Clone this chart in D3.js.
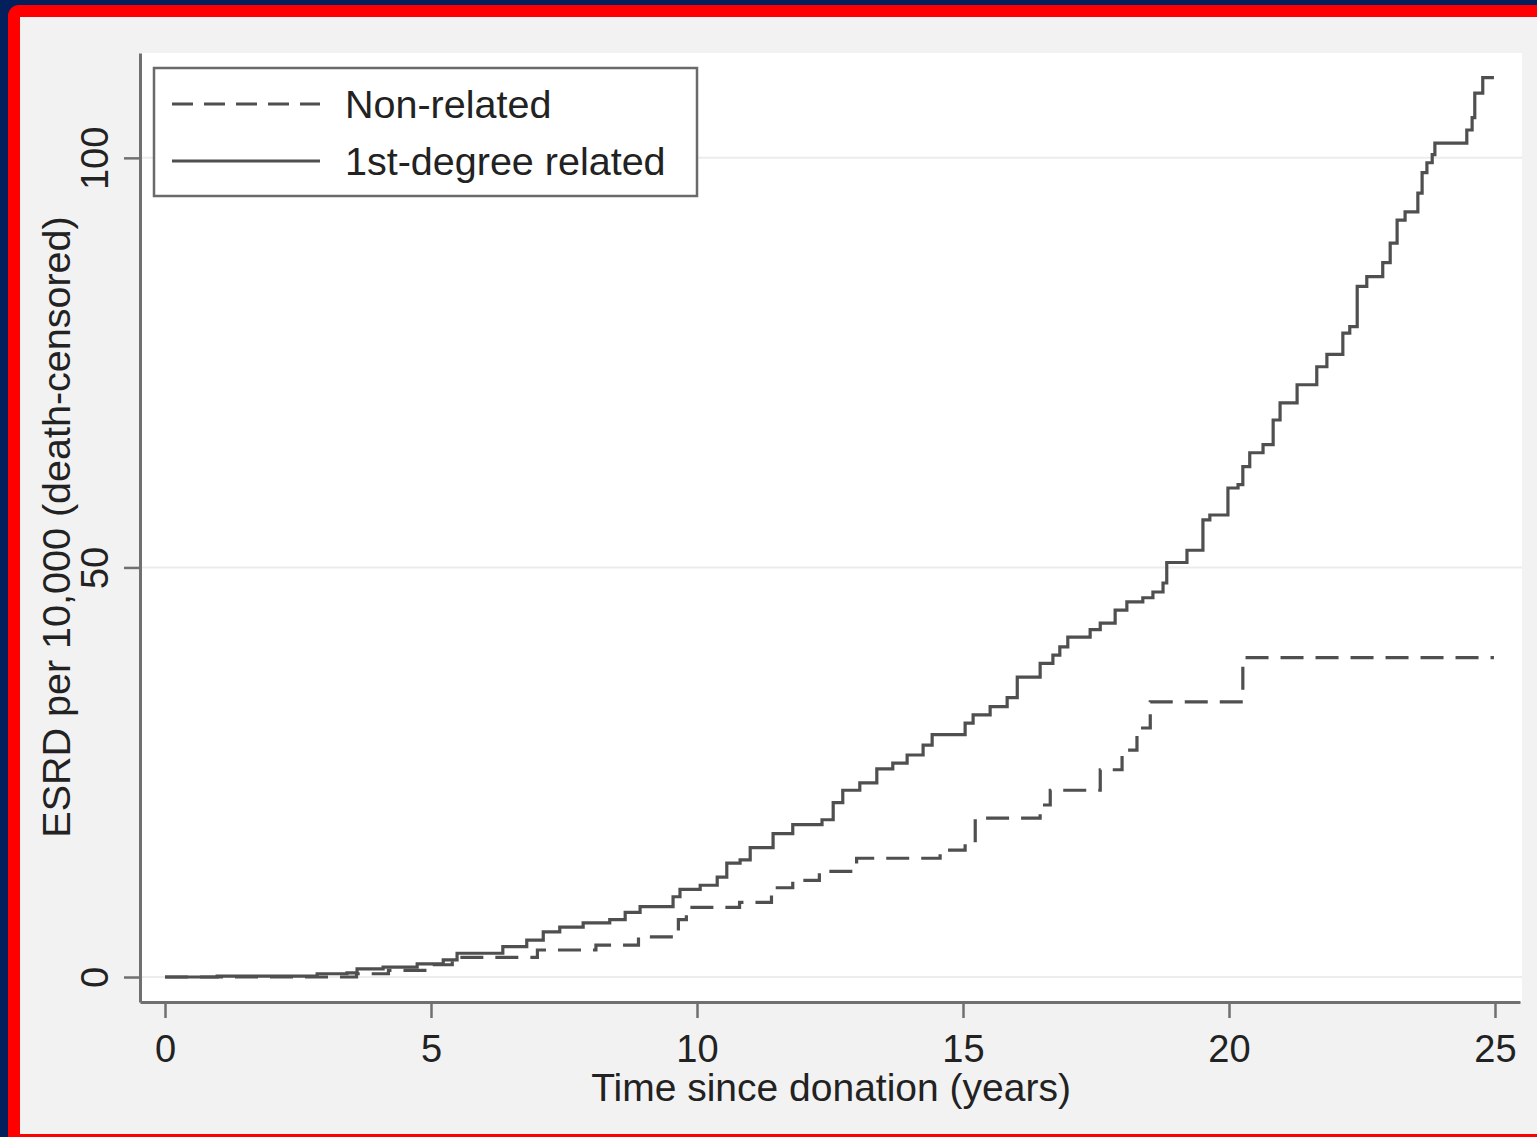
<!DOCTYPE html>
<html>
<head>
<meta charset="utf-8">
<script src="https://cdn.jsdelivr.net/npm/d3@7.9.0/dist/d3.min.js"></script>
<style>
  body { margin: 0; background: #03205c; }
  svg { display: block; font-family: 'Liberation Sans', Arial, Helvetica, sans-serif; }
</style>
</head>
<body>
<svg id="chart"></svg>
<script>
// values (years, ESRD per 10,000)
const seriesNames = ['Non-related', '1st-degree related'];

const nonRelatedT = [0, 3.6, 4.2, 5.0, 5.4, 7.0, 8.1, 8.9, 9.65, 9.8, 10.8, 11.4, 11.8, 12.3, 13.0,
  14.57, 15.04, 15.23, 16.45, 16.64, 17.58, 17.99, 18.27, 18.52, 20.26, 24.98];
const nonRelatedY = [0, 0.4, 0.8, 1.5, 2.4, 3.3, 3.9, 4.9, 7.0, 8.5, 9.1, 10.9, 11.8, 12.9, 14.5,
  15.5, 16.4, 19.4, 21.0, 22.8, 25.3, 27.7, 30.4, 33.6, 39.0, 39.0];

const relatedT = [0, 0.98, 2.86, 3.42, 3.61, 4.10, 4.74, 5.23, 5.49, 6.35, 6.80, 7.11, 7.42, 7.86,
  8.36, 8.65, 8.93, 9.55, 9.68, 10.06, 10.38, 10.56, 10.81, 11.00, 11.43, 11.80, 12.35, 12.56,
  12.74, 13.06, 13.38, 13.68, 13.95, 14.25, 14.42, 15.04, 15.19, 15.51, 15.83, 16.02, 16.45,
  16.69, 16.82, 16.97, 17.39, 17.58, 17.86, 18.08, 18.38, 18.57, 18.76, 18.83, 19.21, 19.51,
  19.64, 19.98, 20.17, 20.26, 20.39, 20.64, 20.83, 20.96, 21.28, 21.65, 21.84, 22.14, 22.27,
  22.41, 22.59, 22.89, 23.03, 23.16, 23.31, 23.55, 23.63, 23.72, 23.82, 23.87, 24.47, 24.57,
  24.62, 24.77, 24.98];
const relatedY = [0, 0.1, 0.4, 0.5, 1.0, 1.2, 1.6, 2.1, 2.9, 3.7, 4.5, 5.5, 6.1, 6.6,
  7.0, 7.9, 8.6, 9.8, 10.7, 11.2, 12.2, 13.9, 14.3, 15.8, 17.5, 18.6, 19.2, 21.3,
  22.8, 23.7, 25.4, 26.1, 27.1, 28.3, 29.6, 31.0, 32.0, 33.0, 34.1, 36.6, 38.3,
  39.3, 40.3, 41.5, 42.4, 43.2, 44.8, 45.8, 46.3, 47.0, 48.1, 50.6, 52.1, 55.8,
  56.4, 59.7, 60.1, 62.3, 64.0, 65.0, 68.0, 70.1, 72.3, 74.5, 76.0, 78.6, 79.4,
  84.3, 85.5, 87.2, 89.6, 92.4, 93.4, 95.7, 98.2, 99.4, 100.4, 101.8, 103.4, 104.9,
  107.9, 109.8, 109.8];

const xTicks = [0, 5, 10, 15, 20, 25];
const yTicks = [0, 50, 100];

const width = 1537;
const height = 1137;
const plot = { left: 140, right: 1522, top: 53, bottom: 1002 };
const lineColor = '#4f4f4f';
const axisColor = '#707070';
const textColor = '#222222';

const svg = d3.select('#chart')
  .attr('width', width)
  .attr('height', height);

// frame: navy, red border, grey panel
svg.append('rect').attr('width', width).attr('height', height).attr('fill', '#03205c');
svg.append('rect')
  .attr('x', 8).attr('y', 5)
  .attr('width', width + 40).attr('height', height + 40)
  .attr('rx', 11)
  .attr('fill', '#ff0000');
svg.append('rect')
  .attr('x', 20).attr('y', 17)
  .attr('width', width - 20).attr('height', 1134 - 17)
  .attr('fill', '#f2f2f2');

// plot region
svg.append('rect')
  .attr('x', plot.left).attr('y', plot.top)
  .attr('width', plot.right - plot.left).attr('height', plot.bottom - plot.top)
  .attr('fill', '#ffffff');

const x = d3.scaleLinear().domain([-0.47, 25.47]).range([plot.left, 1520]);
const y = d3.scaleLinear().domain([-3.05, 112.8]).range([plot.bottom, plot.top]);

// gridlines
svg.append('g')
  .selectAll('line')
  .data(yTicks)
  .join('line')
  .attr('x1', plot.left).attr('x2', plot.right)
  .attr('y1', d => y(d)).attr('y2', d => y(d))
  .attr('stroke', '#ececec')
  .attr('stroke-width', 2);

// series
const toPoints = (ts, vs) => ts.map((t, i) => [t, vs[i]]);
const line = d3.line()
  .x(d => x(d[0]))
  .y(d => y(d[1]))
  .curve(d3.curveStepAfter);

svg.append('path')
  .datum(toPoints(nonRelatedT, nonRelatedY))
  .attr('d', line)
  .attr('fill', 'none')
  .attr('stroke', lineColor)
  .attr('stroke-width', 3.2)
  .attr('stroke-dasharray', '23,12');

svg.append('path')
  .datum(toPoints(relatedT, relatedY))
  .attr('d', line)
  .attr('fill', 'none')
  .attr('stroke', lineColor)
  .attr('stroke-width', 3.2);

// x axis
const xAxis = svg.append('g')
  .attr('transform', `translate(0, ${plot.bottom})`)
  .call(d3.axisBottom(x).tickValues(xTicks).tickSize(16).tickSizeOuter(0));
xAxis.select('.domain').attr('stroke', axisColor).attr('stroke-width', 3);
xAxis.selectAll('.tick line').attr('stroke', axisColor).attr('stroke-width', 2.5);
xAxis.selectAll('.tick text')
  .attr('y', 60).attr('dy', 0)
  .attr('font-size', 38)
  .attr('fill', textColor);

// y axis
const yAxis = svg.append('g')
  .attr('transform', `translate(${plot.left}, 0)`)
  .call(d3.axisLeft(y).tickValues(yTicks).tickSize(16).tickSizeOuter(0));
yAxis.select('.domain').attr('stroke', axisColor).attr('stroke-width', 3);
yAxis.selectAll('.tick line').attr('stroke', axisColor).attr('stroke-width', 2.5);
yAxis.selectAll('.tick text')
  .attr('transform', 'rotate(-90)')
  .attr('x', 0).attr('y', -32).attr('dy', 0)
  .attr('text-anchor', 'middle')
  .attr('font-size', 38)
  .attr('fill', textColor);

// axis titles
svg.append('text')
  .attr('x', 831).attr('y', 1101)
  .attr('text-anchor', 'middle')
  .attr('font-size', 39)
  .attr('fill', textColor)
  .text('Time since donation (years)');

svg.append('text')
  .attr('transform', 'translate(70, 527) rotate(-90)')
  .attr('text-anchor', 'middle')
  .attr('font-size', 39.5)
  .attr('fill', textColor)
  .text('ESRD per 10,000 (death-censored)');

// legend
const legend = svg.append('g');
legend.append('rect')
  .attr('x', 154).attr('y', 68)
  .attr('width', 543).attr('height', 128)
  .attr('fill', '#ffffff')
  .attr('stroke', '#6a6a6a')
  .attr('stroke-width', 2.5);

const legendRows = legend.selectAll('g.row')
  .data(seriesNames)
  .join('g')
  .attr('class', 'row')
  .attr('transform', (d, i) => `translate(0, ${104 + i * 57})`);

legendRows.append('line')
  .attr('x1', 172).attr('x2', 320)
  .attr('stroke', lineColor)
  .attr('stroke-width', 3)
  .attr('stroke-dasharray', (d, i) => i === 0 ? '21,11' : null);

legendRows.append('text')
  .attr('x', 345).attr('y', 14)
  .attr('font-size', 39.5)
  .attr('fill', textColor)
  .text(d => d);
</script>
</body>
</html>
